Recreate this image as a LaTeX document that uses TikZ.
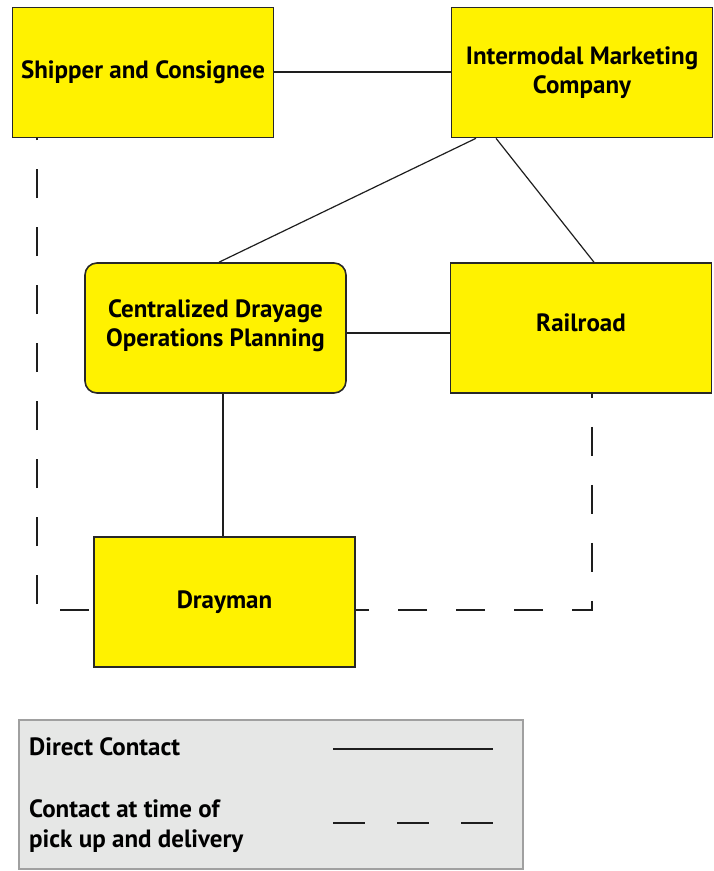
\documentclass[tikz,border=0pt]{standalone}
\usepackage{fontspec}
\setmainfont{PT Sans}
\definecolor{boxyellow}{RGB}{255,242,0}
\definecolor{boxline}{RGB}{40,40,40}
\definecolor{connline}{RGB}{30,30,30}
\definecolor{legfill}{RGB}{230,231,230}
\definecolor{legline}{RGB}{160,160,160}
\begin{document}
\begin{tikzpicture}[x=1pt,y=-1pt,
  box/.style={draw=boxline, fill=boxyellow, line width=1.6pt, align=center,
    font=\fontsize{25}{29.5}\selectfont\bfseries, inner sep=0pt,
    minimum width=261pt, minimum height=130pt},
  raised/.style={text depth=10pt},
  lowered/.style={text height=20pt},
  conn/.style={draw=connline, line width=1.2pt},
  dashconn/.style={draw=connline, line width=1.4pt, dash pattern=on 29pt off 29pt},
  legtext/.style={font=\fontsize{25}{30}\selectfont\bfseries, align=left, inner sep=0pt, anchor=west}
]
\useasboundingbox (0,0) rectangle (714,871);

% boxes
\node[box] (ship) at (143,72.5) {Shipper and Consignee};
\node[box] (imc) at (582,72.5) {Intermodal Marketing\\Company};
\node[box, raised, rounded corners=12pt] (cdop) at (215.5,328) {Centralized Drayage\\Operations Planning};
\node[box, raised] (rail) at (581,328) {Railroad};
\node[box] (dray) at (224.5,602) {Drayman};

% solid connectors
\draw[conn] (ship.east |- 0,72) -- (imc.west |- 0,72);
\draw[conn] (imc.south -| 476,0) -- (cdop.north -| 219,0);
\draw[conn] (imc.south -| 496,0) -- (rail.north -| 594,0);
\draw[conn] (cdop.east |- 0,333) -- (rail.west |- 0,333);
\draw[conn] (cdop.south -| 223,0) -- (dray.north -| 223,0);

% dashed connectors
\coordinate (lc) at (37,610);
\coordinate (rc) at (592,610);
\draw[dashconn, dash phase=54pt] (dray.west |- lc) -- (lc) -- (ship.south -| lc);
\draw[dashconn, dash phase=25pt] (rail.south -| rc) -- (rc) -- (dray.east |- rc);

% legend
\node[draw=legline, fill=legfill, line width=2pt, minimum width=504pt, minimum height=149pt, inner sep=0pt] (legend) at (271,794.5) {};
\node[legtext] (ldirect) at (29,747) {Direct Contact};
\node[legtext] (lpick) at (29,826) {Contact at time of\\pick up and delivery};
\coordinate (s1) at (333,749);
\coordinate (s2) at (493,749);
\coordinate (d1) at (333,823);
\coordinate (d2) at (493,823);
\draw[conn, line width=1.6pt] (s1) -- (s2);
\draw[conn, line width=1.6pt, dash pattern=on 32pt off 32pt] (d1) -- (d2);
\end{tikzpicture}
\end{document}
